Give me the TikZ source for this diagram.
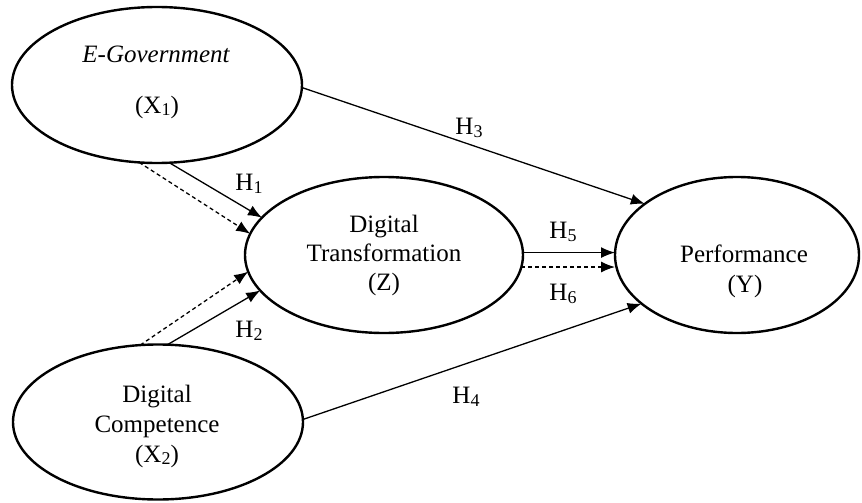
\documentclass[tikz,border=0pt]{standalone}
\usepackage{fontspec}
\setmainfont{Liberation Serif}
\usetikzlibrary{arrows.meta,shapes.geometric}
\newcommand\sbx[1]{\raisebox{-0.22ex}{\fontsize{18}{18}\selectfont #1}}
\begin{document}
\begin{tikzpicture}[x=1pt,y=-1pt,
  lv/.style={draw,ellipse,line width=2.4pt,inner sep=0pt,outer sep=0pt},
  tx/.style={anchor=base,inner sep=0pt,font=\fontsize{25}{30}\selectfont},
  hl/.style={inner sep=0pt,font=\fontsize{25}{30}\selectfont},
  con/.style={line width=1.3pt,-{Latex[length=14pt,width=11pt]}},
  dcon/.style={con,dash pattern=on 4pt off 3pt}]
\useasboundingbox (0,0) rectangle (862,503);
\fill[white] (0,0) rectangle (862,503);
% latent variables
\node[lv,minimum width=290pt,minimum height=156pt] (eg) at (157,85) {};
\node[lv,minimum width=278pt,minimum height=156pt] (dt) at (384,255) {};
\node[lv,minimum width=244pt,minimum height=156pt] (pf) at (737,255) {};
\node[lv,minimum width=290pt,minimum height=155pt] (dc) at (158,422) {};
% texts
\node[tx] (eg1) at (156,63) {\itshape E-Government};
\node[tx] (eg2) at (157,113) {(X\sbx{1})};
\node[tx] (dt1) at (384,232) {Digital};
\node[tx] (dt2) at (384,261) {Transformation};
\node[tx] (dt3) at (384,290) {(Z)};
\node[tx] (pf1) at (744,262) {Performance};
\node[tx] (pf2) at (745,292) {(Y)};
\node[tx] (dc1) at (157,402) {Digital};
\node[tx] (dc2) at (157,432) {Competence};
\node[tx] (dc3) at (157,462) {(X\sbx{2})};
% connectors
\draw[con] (eg.-1) -- (pf.151);
\draw[con] (dc.1) -- (pf.207);
\draw[con] (eg.279.5) -- (dt.163.3);
\draw[dcon] (eg.257.5) -- (dt.171);
\draw[con] (dc.83.3) -- (dt.196.8);
\draw[dcon] (dc.103.5) -- (dt.187.4);
\draw[con] (dt.1.2) -- (dt.1.2 -| pf.west);
\draw[dcon] (dt.-5.3) -- (dt.-5.3 -| pf.west);
% hypothesis labels
\node[hl] (h1) at (249,184) {H\sbx{1}};
\node[hl] (h2) at (249,331) {H\sbx{2}};
\node[hl] (h3) at (469,128) {H\sbx{3}};
\node[hl] (h4) at (466,397) {H\sbx{4}};
\node[hl] (h5) at (563,232) {H\sbx{5}};
\node[hl] (h6) at (563,294) {H\sbx{6}};
\end{tikzpicture}
\end{document}
